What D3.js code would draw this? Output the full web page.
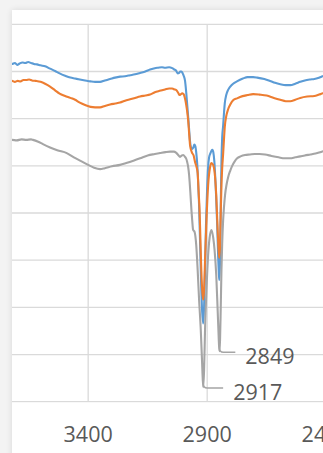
<!DOCTYPE html>
<html>
<head>
<meta charset="utf-8">
<script src="https://cdn.jsdelivr.net/npm/d3@7"></script>
<style>
  html, body { margin: 0; padding: 0; background: #f3f3f3; }
  svg { display: block; }
  text { font-family: "Open Sans", sans-serif; fill: #595959; }
</style>
</head>
<body>
<svg id="chart" width="323" height="453"></svg>
<script>
// FTIR spectra: wavenumber (cm-1) vs transmittance (%)
const xGrid = [3900, 3400, 2900, 2400];
const xTickLabels = [3400, 2900, 2400];
const yTicks = [20, 30, 40, 50, 60, 70, 80, 90, 100];

const sampleA = [
  [3740,91.6],[3720,91.6],[3708,91.8],[3698,91.4],[3688,91.7],[3676,91.9],[3664,91.8],[3652,92.0],
  [3640,91.8],[3628,91.6],[3615,91.5],[3600,91.3],[3581,91.1],[3560,90.6],[3539,90.1],[3520,89.6],
  [3497,89.1],[3475,88.7],[3455,88.5],[3435,88.3],[3413,88.1],[3390,87.9],[3371,87.8],[3350,87.8],
  [3330,88.1],[3308,88.4],[3287,88.7],[3266,88.9],[3245,89.0],[3224,89.2],[3203,89.4],[3182,89.7],
  [3160,90.0],[3140,90.4],[3120,90.7],[3106,90.8],[3090,90.9],[3077,90.8],[3060,90.9],[3047,90.7],
  [3038,90.4],[3031,90.2],[3024,89.6],[3018,89.7],[3013,90.0],[3008,90.0],[3003,89.6],[2998,89.0],
  [2993,88.0],[2988,85.5],[2984,83.0],[2980,80.5],[2976,77.8],[2972,75.2],[2967,73.8],[2962,73.6],
  [2958,73.9],[2954,74.5],[2950,74.2],[2946,72.8],[2942,70.5],[2938,66.5],[2934,61.5],[2930,54.0],
  [2926,46.0],[2921,39.0],[2917,36.6],[2913,40.0],[2909,48.0],[2905,57.5],[2900,65.5],[2896,69.8],
  [2892,71.8],[2887,72.6],[2882,73.2],[2878,73.4],[2874,72.8],[2870,71.0],[2866,67.5],[2862,63.0],
  [2858,57.5],[2854,51.0],[2851,47.2],[2849,45.8],[2846,50.0],[2843,62.0],[2840,71.0],[2837,76.0],
  [2833,78.5],[2829,81.5],[2826,83.3],[2820,85.0],[2812,86.1],[2803,86.8],[2791,87.4],[2775,87.9],
  [2750,88.5],[2730,88.8],[2707,88.8],[2690,88.7],[2660,88.4],[2636,88.0],[2615,87.6],[2593,87.3],
  [2570,87.1],[2551,87.1],[2530,87.4],[2509,87.8],[2490,88.1],[2467,88.3],[2450,88.4],[2434,88.6],
  [2420,88.9],[2410,89.1],[2396,89.5]
];

const sampleB = [
  [3740,88.0],[3720,88.0],[3708,87.8],[3696,88.0],[3684,87.9],[3672,88.2],[3660,88.2],[3648,88.3],
  [3636,88.1],[3620,88.0],[3600,87.8],[3581,87.4],[3560,86.8],[3539,86.0],[3520,85.3],[3497,84.8],
  [3475,84.4],[3455,84.0],[3435,83.4],[3413,82.9],[3390,82.5],[3371,82.4],[3350,82.4],[3330,82.7],
  [3308,83.0],[3287,83.2],[3266,83.4],[3245,83.8],[3224,84.1],[3203,84.4],[3182,84.7],[3160,84.9],
  [3140,85.1],[3120,85.6],[3100,85.9],[3077,86.2],[3060,86.4],[3047,86.4],[3038,86.2],[3031,86.1],
  [3022,85.5],[3016,85.0],[3010,85.2],[3005,85.4],[3001,85.3],[2997,85.0],[2992,84.0],[2988,82.9],
  [2984,81.5],[2980,79.7],[2976,77.0],[2972,74.4],[2964,72.8],[2957,72.2],[2951,70.8],[2945,69.8],
  [2940,68.5],[2936,64.5],[2932,60.6],[2929,55.5],[2926,50.0],[2921,43.7],[2917,41.6],[2913,43.7],
  [2909,50.0],[2903,58.5],[2896,65.9],[2888,69.7],[2882,70.6],[2875,70.2],[2869,68.7],[2862,63.8],
  [2856,56.4],[2852,52.2],[2849,50.5],[2846,53.0],[2843,60.0],[2840,66.0],[2837,69.5],[2833,72.5],
  [2829,76.0],[2826,78.3],[2820,80.5],[2812,82.0],[2803,83.0],[2791,83.9],[2775,84.3],[2762,84.6],
  [2730,85.0],[2707,85.2],[2680,85.1],[2650,84.9],[2620,84.4],[2593,84.0],[2570,83.7],[2551,83.7],
  [2530,84.0],[2509,84.4],[2480,84.7],[2450,84.8],[2430,85.1],[2413,85.4],[2396,85.6]
];

const sampleC = [
  [3740,75.5],[3720,75.5],[3700,75.4],[3680,75.6],[3660,75.5],[3640,75.6],[3632,75.5],[3610,75.1],
  [3590,74.6],[3560,73.9],[3530,73.3],[3490,72.7],[3460,71.8],[3430,71.0],[3400,70.2],[3375,69.6],
  [3350,69.3],[3330,69.5],[3300,69.9],[3266,70.2],[3240,70.6],[3210,71.1],[3182,71.6],[3150,72.2],
  [3120,72.5],[3098,72.7],[3075,72.9],[3056,73.0],[3040,73.0],[3031,72.8],[3022,72.3],[3014,71.9],
  [3006,72.2],[3001,72.3],[2993,71.9],[2988,71.5],[2984,70.8],[2980,69.8],[2976,68.1],[2970,63.8],
  [2966,60.5],[2963,58.5],[2959,56.4],[2953,56.0],[2946,53.2],[2940,47.9],[2934,41.6],[2927,35.3],
  [2921,27.8],[2917,23.1],[2913,26.7],[2909,35.3],[2903,43.7],[2896,51.1],[2890,54.7],[2882,56.4],
  [2875,54.9],[2869,52.2],[2862,46.9],[2856,39.4],[2852,34.1],[2849,30.7],[2846,33.0],[2843,40.0],
  [2840,48.0],[2837,53.5],[2833,58.5],[2829,61.5],[2825,63.8],[2818,66.2],[2812,67.6],[2803,69.0],
  [2795,70.0],[2785,70.9],[2774,71.6],[2760,72.0],[2741,72.3],[2720,72.4],[2700,72.5],[2680,72.5],
  [2657,72.4],[2630,72.1],[2600,71.8],[2575,71.6],[2551,71.6],[2530,71.8],[2509,72.0],[2490,72.2],
  [2467,72.4],[2445,72.6],[2430,72.8],[2413,73.1],[2396,73.4]
];

const seriesColors = ["#5B9BD5", "#ED7D31", "#A5A5A5"];
const peakLabels = [2917, 2849];

const svg = d3.select("#chart");
const W = 323, H = 453;
const panel = { left: 12, top: 10 };
const plot = { left: 12, right: 326.2, top: 24.3, bottom: 401.7 };

// card background with a soft edge shadow
const defs = svg.append("defs");
const f = defs.append("filter").attr("id", "shadow").attr("x", "-10%").attr("y", "-10%").attr("width", "120%").attr("height", "120%");
f.append("feGaussianBlur").attr("in", "SourceAlpha").attr("stdDeviation", 3);
f.append("feComponentTransfer").append("feFuncA").attr("type", "linear").attr("slope", 0.12);
const fm = f.append("feMerge");
fm.append("feMergeNode");
fm.append("feMergeNode").attr("in", "SourceGraphic");

svg.append("rect").attr("width", W).attr("height", H).attr("fill", "#f3f3f3");
svg.append("rect")
  .attr("x", panel.left).attr("y", panel.top)
  .attr("width", W - panel.left + 20).attr("height", H - panel.top + 20)
  .attr("fill", "#ffffff").attr("filter", "url(#shadow)");

defs.append("clipPath").attr("id", "plotClip")
  .append("rect")
  .attr("x", plot.left).attr("y", panel.top)
  .attr("width", W - plot.left).attr("height", plot.bottom - panel.top + 1);

const x = d3.scaleLinear().domain([3720, 2400]).range([plot.left, plot.right]);
const y = d3.scaleLinear().domain([20, 100]).range([plot.bottom, plot.top]);

// gridlines
const grid = svg.append("g").attr("clip-path", "url(#plotClip)");
grid.selectAll("line.h").data(yTicks).join("line")
  .attr("x1", plot.left).attr("x2", W)
  .attr("y1", d => y(d)).attr("y2", d => y(d))
  .attr("stroke", "#dadada").attr("stroke-width", 1.3);
grid.selectAll("line.v").data(xGrid).join("line")
  .attr("x1", d => x(d)).attr("x2", d => x(d))
  .attr("y1", plot.top).attr("y2", plot.bottom)
  .attr("stroke", "#dadada").attr("stroke-width", 1.3);

// x tick labels
svg.append("g").selectAll("text").data(xTickLabels).join("text")
  .attr("x", d => x(d)).attr("y", 441.5)
  .attr("text-anchor", "middle")
  .attr("font-size", 21.5)
  .text(d => d);

// spectra
const line = d3.line().x(d => x(d[0])).y(d => y(d[1])).curve(d3.curveMonotoneX);
const lines = svg.append("g").attr("clip-path", "url(#plotClip)");
[sampleA, sampleB, sampleC].forEach((s, i) => {
  lines.append("path").datum(s)
    .attr("d", line)
    .attr("fill", "none")
    .attr("stroke", seriesColors[i])
    .attr("stroke-width", 2.1)
    .attr("stroke-linejoin", "round");
});

// peak labels on the third spectrum with leader lines
const labelG = svg.append("g");
peakLabels.forEach(wn => {
  const pt = sampleC.find(d => d[0] === wn);
  const px = x(pt[0]), py = y(pt[1]);
  const lead = wn === 2917 ? 20 : 16;
  labelG.append("path")
    .attr("d", `M${px},${py - 4} Q${px},${py + 1} ${px + 4},${py + 1} L${px + lead},${py + 1}`)
    .attr("fill", "none").attr("stroke", "#a5a5a5").attr("stroke-width", 1.5);
  labelG.append("text")
    .attr("x", px + lead + 10).attr("y", py + 12.5)
    .attr("font-size", 21.5)
    .text(wn);
});
</script>
</body>
</html>
